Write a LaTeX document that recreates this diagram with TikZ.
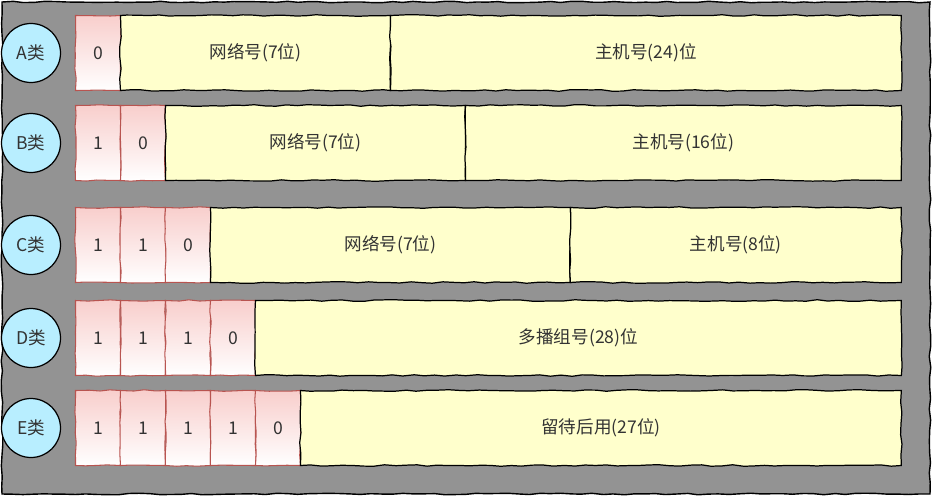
\documentclass[tikz,border=0pt]{standalone}
\usepackage{fontspec}
\setmainfont{Noto Sans CJK SC}
\usetikzlibrary{positioning, decorations.pathmorphing}
\definecolor{panelgray}{RGB}{147,147,147}
\definecolor{bitred}{RGB}{248,206,204}
\definecolor{bitborder}{RGB}{184,84,80}
\definecolor{fieldyellow}{RGB}{255,255,204}
\definecolor{classcyan}{RGB}{184,238,255}
\definecolor{textgray}{RGB}{51,51,51}

\begin{document}
\pgfmathsetseed{7}
\begin{tikzpicture}[
    x=0.02cm, y=-0.02cm,
    sketch/.style={decorate, decoration={random steps, segment length=6pt, amplitude=0.45pt}},
    bit/.style={rectangle, sketch, draw=bitborder, line width=0.6pt, top color=bitred, bottom color=white,
                minimum width=0.9cm, minimum height=1.5cm, inner sep=0pt, outer sep=0pt,
                text=textgray, font=\fontsize{10}{12}\selectfont},
    field/.style={rectangle, sketch, draw=black, line width=0.7pt, fill=fieldyellow,
                  minimum height=1.5cm, inner sep=0pt, outer sep=0pt,
                  text=textgray, font=\fontsize{10}{12}\selectfont},
    class/.style={circle, draw=black, line width=0.7pt, fill=classcyan, minimum size=1.18cm,
                  inner sep=0pt, text=textgray, font=\fontsize{10}{12}\selectfont}
]
    \useasboundingbox (0,0) rectangle (932,497);
    \path[sketch, draw=black, line width=0.8pt, fill=panelgray] (2,2) rectangle (930,494);

    % Row A
    \node[class] (acls) at (31,53) {A类};
    \node[bit] (a1) at (98,53) {0};
    \node[field, minimum width=5.4cm, right=0pt of a1] (anet) {网络号(7位)};
    \node[field, minimum width=10.22cm, right=0pt of anet] (ahost) {主机号(24)位};

    % Row B
    \node[class] (bcls) at (31,143) {B类};
    \node[bit] (b1) at (98,143) {1};
    \node[bit, right=0pt of b1] (b2) {0};
    \node[field, minimum width=6cm, right=0pt of b2] (bnet) {网络号(7位)};
    \node[field, minimum width=8.72cm, right=0pt of bnet] (bhost) {主机号(16位)};

    % Row C
    \node[class] (ccls) at (31,245) {C类};
    \node[bit] (c1) at (98,245) {1};
    \node[bit, right=0pt of c1] (c2) {1};
    \node[bit, right=0pt of c2] (c3) {0};
    \node[field, minimum width=7.2cm, right=0pt of c3] (cnet) {网络号(7位)};
    \node[field, minimum width=6.62cm, right=0pt of cnet] (chost) {主机号(8位)};

    % Row D
    \node[class] (dcls) at (31,338) {D类};
    \node[bit] (d1) at (98,338) {1};
    \node[bit, right=0pt of d1] (d2) {1};
    \node[bit, right=0pt of d2] (d3) {1};
    \node[bit, right=0pt of d3] (d4) {0};
    \node[field, minimum width=12.92cm, right=0pt of d4] (dgroup) {多播组号(28)位};

    % Row E
    \node[class] (ecls) at (31,428) {E类};
    \node[bit] (e1) at (98,428) {1};
    \node[bit, right=0pt of e1] (e2) {1};
    \node[bit, right=0pt of e2] (e3) {1};
    \node[bit, right=0pt of e3] (e4) {1};
    \node[bit, right=0pt of e4] (e5) {0};
    \node[field, minimum width=12.02cm, right=0pt of e5] (ereserved) {留待后用(27位)};
\end{tikzpicture}
\end{document}
